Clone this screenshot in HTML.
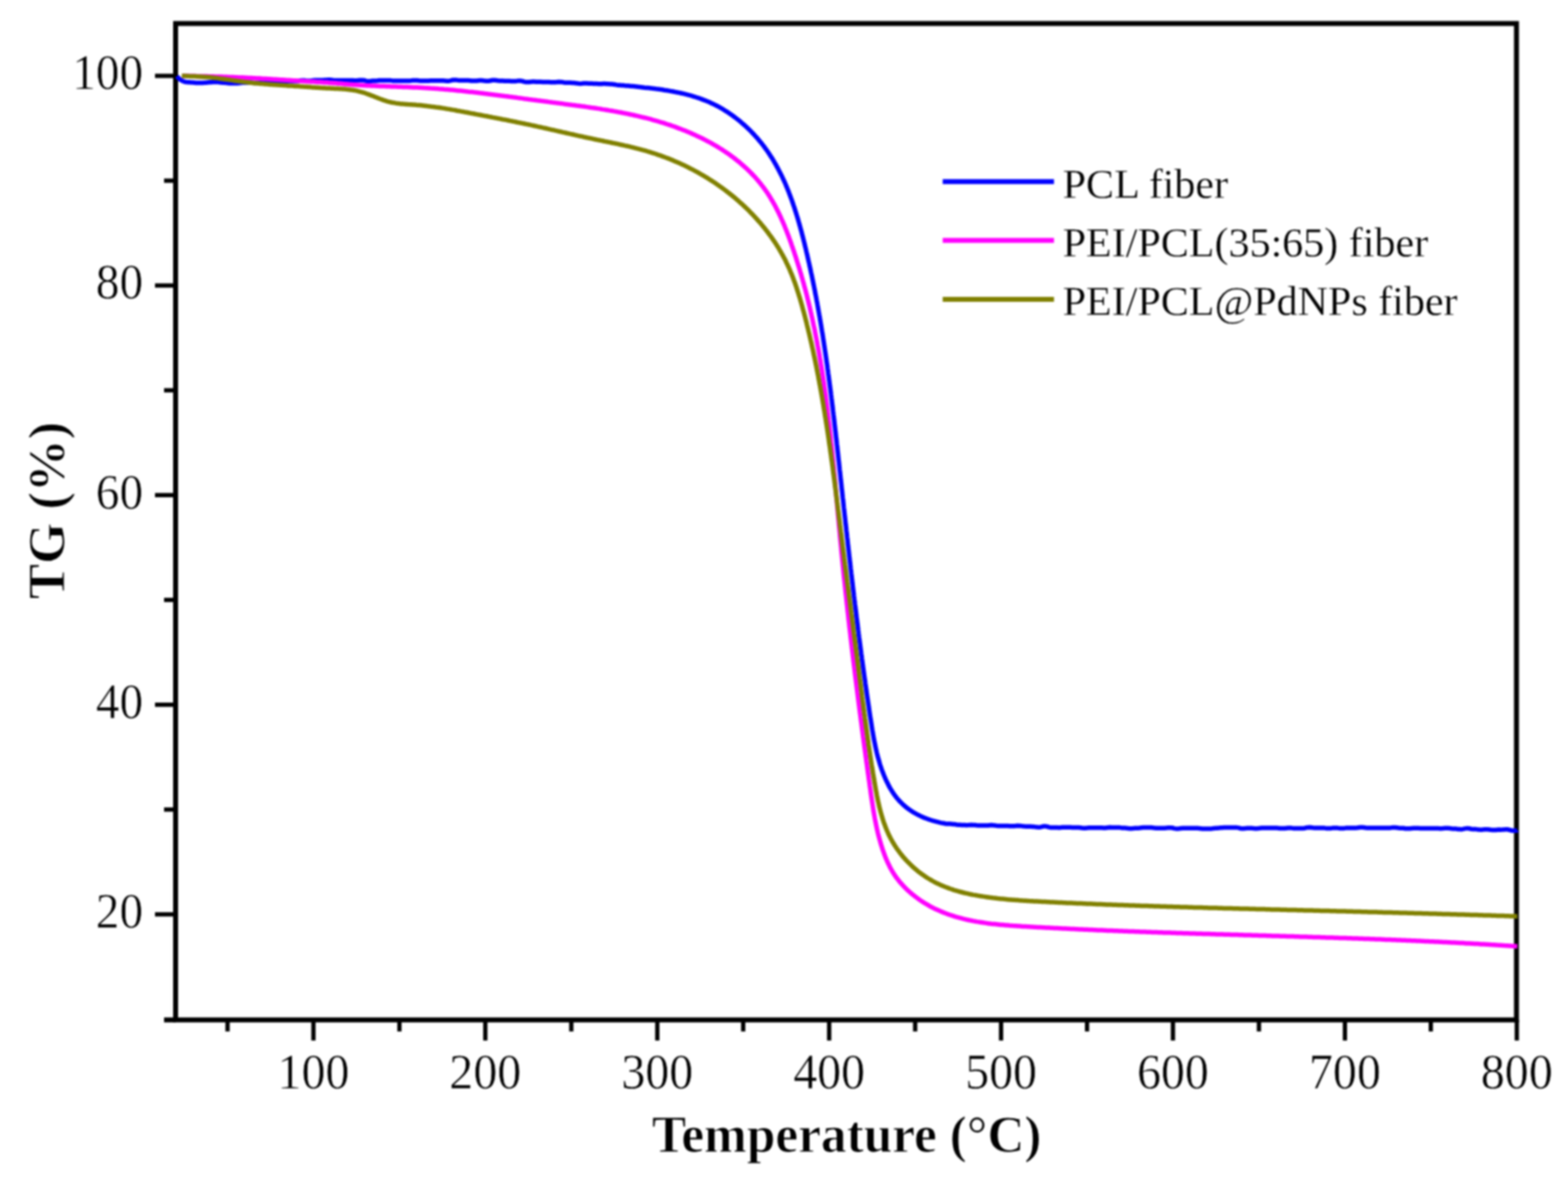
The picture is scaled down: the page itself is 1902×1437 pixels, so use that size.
<!DOCTYPE html>
<html lang="en"><head><meta charset="utf-8"><title>TG curves</title>
<style>
html,body{margin:0;padding:0;background:#fff;}
body{width:1902px;height:1437px;overflow:hidden;}
svg{display:block;filter:blur(1.0px);}
text{font-family:"Liberation Serif","Times New Roman",serif;fill:#000;stroke:#fff;stroke-width:0.6px;paint-order:fill stroke;}
.tk{font-size:61.5px;}
.tt{font-size:64px;font-weight:bold;stroke-width:1px;}
.lg{font-size:51px;stroke-width:0.3px;}
</style></head><body>
<svg width="1902" height="1437" viewBox="0 0 1902 1437">
<rect x="0" y="0" width="1902" height="1437" fill="#fff"/>
<g id="chart">

<g stroke="#000" stroke-width="6" fill="none" stroke-linecap="butt">
<rect x="213.0" y="28.5" width="1626.5" height="1208.3"/>
<line x1="276.0" y1="1236.8" x2="276.0" y2="1250.8" stroke-width="5.2"/>
<line x1="380.2" y1="1236.8" x2="380.2" y2="1261.8" stroke-width="5.2"/>
<line x1="484.5" y1="1236.8" x2="484.5" y2="1250.8" stroke-width="5.2"/>
<line x1="588.7" y1="1236.8" x2="588.7" y2="1261.8" stroke-width="5.2"/>
<line x1="693.0" y1="1236.8" x2="693.0" y2="1250.8" stroke-width="5.2"/>
<line x1="797.3" y1="1236.8" x2="797.3" y2="1261.8" stroke-width="5.2"/>
<line x1="901.5" y1="1236.8" x2="901.5" y2="1250.8" stroke-width="5.2"/>
<line x1="1005.8" y1="1236.8" x2="1005.8" y2="1261.8" stroke-width="5.2"/>
<line x1="1110.1" y1="1236.8" x2="1110.1" y2="1250.8" stroke-width="5.2"/>
<line x1="1214.3" y1="1236.8" x2="1214.3" y2="1261.8" stroke-width="5.2"/>
<line x1="1318.6" y1="1236.8" x2="1318.6" y2="1250.8" stroke-width="5.2"/>
<line x1="1422.8" y1="1236.8" x2="1422.8" y2="1261.8" stroke-width="5.2"/>
<line x1="1527.1" y1="1236.8" x2="1527.1" y2="1250.8" stroke-width="5.2"/>
<line x1="1631.4" y1="1236.8" x2="1631.4" y2="1261.8" stroke-width="5.2"/>
<line x1="1735.6" y1="1236.8" x2="1735.6" y2="1250.8" stroke-width="5.2"/>
<line x1="1839.9" y1="1236.8" x2="1839.9" y2="1261.8" stroke-width="5.2"/>
<line x1="199.0" y1="1236.8" x2="213.0" y2="1236.8" stroke-width="6"/>
<line x1="188.0" y1="1108.8" x2="213.0" y2="1108.8" stroke-width="5.2"/>
<line x1="199.0" y1="981.7" x2="213.0" y2="981.7" stroke-width="5.2"/>
<line x1="188.0" y1="854.6" x2="213.0" y2="854.6" stroke-width="5.2"/>
<line x1="199.0" y1="727.5" x2="213.0" y2="727.5" stroke-width="5.2"/>
<line x1="188.0" y1="600.4" x2="213.0" y2="600.4" stroke-width="5.2"/>
<line x1="199.0" y1="473.3" x2="213.0" y2="473.3" stroke-width="5.2"/>
<line x1="188.0" y1="346.2" x2="213.0" y2="346.2" stroke-width="5.2"/>
<line x1="199.0" y1="219.1" x2="213.0" y2="219.1" stroke-width="5.2"/>
<line x1="188.0" y1="92.0" x2="213.0" y2="92.0" stroke-width="5.2"/>
</g>
<g fill="none" stroke-width="5.5" stroke-linejoin="round" stroke-linecap="butt">
<path d="M214.5,92.5 L215.9,94.1 L217.4,95.5 L219.0,96.7 L220.6,97.8 L222.4,98.6 L224.2,99.2 L226.1,99.6 L228.0,99.7 L229.9,99.8 L231.9,99.9 L233.9,100.1 L235.9,100.3 L237.9,100.5 L239.9,100.5 L241.9,100.5 L244.0,100.4 L246.0,100.4 L248.0,100.3 L250.0,100.2 L252.1,99.9 L254.1,99.7 L256.1,99.7 L258.1,99.6 L260.1,99.6 L262.1,99.6 L264.1,99.6 L266.1,99.7 L268.1,100.1 L270.1,100.2 L272.1,100.2 L274.1,100.4 L276.1,100.7 L278.1,100.9 L280.1,100.9 L282.1,100.9 L284.1,100.9 L286.1,100.9 L288.1,100.9 L290.1,100.8 L292.1,100.5 L294.0,100.3 L296.0,100.3 L298.0,100.2 L300.0,100.2 L302.1,100.2 L304.1,100.1 L306.1,100.3 L308.1,100.5 L310.1,100.6 L312.1,100.5 L314.1,100.3 L316.1,100.0 L318.1,99.7 L320.1,99.7 L322.1,99.7 L324.1,100.0 L326.1,100.0 L328.1,99.9 L330.1,99.7 L332.1,99.3 L334.1,99.0 L336.1,98.9 L338.1,99.0 L340.1,99.2 L342.1,99.2 L344.1,99.1 L346.1,98.8 L348.1,98.4 L350.0,98.2 L352.0,98.1 L354.0,98.2 L356.0,98.4 L358.0,98.5 L360.0,98.4 L362.0,98.2 L364.0,97.8 L366.0,97.6 L368.0,97.5 L370.0,97.6 L372.0,97.9 L374.0,98.0 L376.0,98.0 L378.0,97.8 L380.0,97.5 L382.0,97.3 L384.0,97.3 L386.0,97.3 L388.0,97.3 L390.0,97.3 L392.0,97.3 L394.0,97.1 L396.0,96.9 L398.0,96.7 L400.0,96.7 L402.0,96.9 L404.0,97.2 L406.0,97.4 L408.0,97.4 L410.0,97.4 L412.0,97.4 L414.0,97.5 L416.0,97.5 L418.0,97.5 L420.0,97.5 L422.0,97.6 L424.0,97.6 L426.0,97.6 L428.0,97.6 L430.0,97.7 L432.0,97.7 L434.0,97.6 L436.0,97.3 L438.0,97.2 L440.0,97.2 L442.0,97.5 L444.0,98.1 L446.0,98.4 L448.0,98.5 L450.0,98.3 L452.0,98.0 L454.0,97.9 L456.0,97.9 L458.0,97.8 L460.0,97.5 L462.0,97.4 L464.0,97.4 L466.0,97.4 L468.0,97.4 L470.0,97.4 L472.0,97.4 L474.0,97.6 L476.0,97.9 L478.0,98.0 L480.0,98.0 L482.0,98.1 L484.0,98.1 L486.0,98.1 L488.0,98.1 L490.0,98.0 L492.0,98.0 L494.0,98.0 L496.0,98.0 L498.0,97.9 L500.0,97.6 L502.0,97.4 L504.0,97.4 L506.0,97.5 L508.0,97.8 L510.0,97.9 L512.0,97.9 L514.0,97.9 L516.0,97.9 L518.0,97.9 L520.0,97.9 L522.0,97.8 L524.0,97.8 L526.0,97.8 L528.0,97.8 L530.0,97.7 L532.0,97.7 L534.0,97.7 L536.0,97.7 L538.0,97.8 L540.0,98.1 L542.0,98.2 L544.0,98.2 L546.0,97.9 L548.0,97.3 L550.0,97.0 L552.0,96.9 L554.0,97.1 L556.0,97.4 L558.0,97.5 L560.0,97.5 L562.0,97.5 L564.0,97.5 L566.0,97.5 L568.0,97.5 L570.0,97.7 L572.0,98.0 L574.0,98.1 L576.0,98.1 L578.0,98.0 L580.0,97.7 L582.0,97.6 L584.0,97.6 L586.0,97.8 L588.0,98.1 L590.0,98.3 L592.0,98.3 L594.0,98.1 L596.0,97.5 L598.0,97.2 L600.0,97.3 L602.0,97.5 L604.0,97.8 L606.0,98.0 L608.0,98.1 L610.0,98.1 L612.0,98.2 L614.0,98.2 L616.0,98.3 L618.0,98.3 L620.0,98.4 L622.0,98.4 L624.0,98.5 L626.0,98.4 L628.0,98.1 L630.0,98.0 L632.0,98.1 L634.0,98.5 L636.0,99.1 L638.0,99.5 L640.0,99.5 L642.0,99.4 L644.0,99.2 L646.0,99.1 L648.0,99.1 L650.0,99.2 L652.0,99.2 L654.0,99.3 L656.0,99.3 L658.0,99.4 L660.0,99.5 L662.0,99.5 L664.0,99.6 L666.0,99.6 L668.0,99.7 L670.0,99.7 L672.0,99.8 L674.0,99.7 L676.0,99.4 L678.0,99.3 L680.0,99.4 L682.0,99.6 L684.0,100.0 L686.0,100.2 L688.0,100.2 L690.0,100.3 L692.0,100.3 L694.0,100.4 L696.0,100.5 L697.9,100.7 L699.9,101.1 L701.9,101.3 L703.9,101.4 L705.9,101.3 L707.9,101.1 L709.9,101.0 L711.9,101.1 L713.9,101.2 L715.9,101.2 L717.9,101.3 L719.9,101.4 L721.9,101.5 L723.9,101.6 L725.9,101.7 L727.9,101.8 L729.8,101.8 L731.8,101.6 L733.8,101.5 L735.8,101.7 L737.8,101.8 L739.8,101.9 L741.8,102.0 L743.8,102.2 L745.8,102.5 L747.8,102.9 L749.8,103.2 L751.8,103.3 L753.8,103.5 L755.8,103.6 L757.8,103.8 L759.7,103.9 L761.7,104.1 L763.7,104.3 L765.7,104.5 L767.7,104.6 L769.7,104.8 L771.7,105.0 L773.7,105.2 L775.7,105.4 L777.7,105.7 L779.7,106.0 L781.7,106.3 L783.7,106.5 L785.7,106.6 L787.7,106.8 L789.6,107.0 L791.6,107.2 L793.6,107.4 L795.6,107.7 L797.6,107.9 L799.6,108.2 L801.6,108.5 L803.6,108.8 L805.6,109.2 L807.6,109.5 L809.6,109.8 L811.5,110.1 L813.5,110.5 L815.5,110.8 L817.5,111.2 L819.4,111.6 L821.4,112.0 L823.4,112.4 L825.3,112.8 L827.3,113.2 L829.2,113.7 L831.2,114.2 L833.1,114.7 L835.0,115.2 L837.0,115.7 L838.9,116.2 L840.8,116.8 L842.7,117.4 L844.6,118.0 L846.5,118.6 L848.4,119.2 L850.2,119.9 L852.1,120.6 L854.0,121.3 L855.8,122.0 L857.7,122.8 L859.5,123.5 L861.3,124.3 L863.1,125.2 L865.0,126.0 L866.7,126.9 L868.5,127.8 L870.3,128.7 L872.1,129.7 L873.8,130.7 L875.6,131.7 L877.3,132.7 L879.0,133.8 L880.7,134.8 L882.4,135.9 L884.1,137.0 L885.8,138.2 L887.4,139.3 L889.1,140.5 L890.7,141.7 L892.3,142.9 L893.9,144.1 L895.5,145.4 L897.1,146.7 L898.6,147.9 L900.1,149.3 L901.7,150.6 L903.2,151.9 L904.7,153.3 L906.2,154.7 L907.6,156.0 L909.1,157.4 L910.5,158.9 L911.9,160.3 L913.3,161.8 L914.7,163.2 L916.0,164.7 L917.3,166.2 L918.7,167.7 L920.0,169.2 L921.2,170.7 L922.5,172.3 L923.8,173.8 L925.0,175.4 L926.2,176.9 L927.4,178.5 L928.5,180.1 L929.7,181.7 L930.8,183.3 L932.0,185.0 L933.1,186.6 L934.1,188.2 L935.2,189.9 L936.3,191.6 L937.3,193.2 L938.3,194.9 L939.3,196.6 L940.3,198.3 L941.3,200.0 L942.2,201.8 L943.2,203.5 L944.1,205.2 L945.0,207.0 L945.9,208.7 L946.8,210.5 L947.7,212.3 L948.6,214.0 L949.4,215.8 L950.2,217.6 L951.1,219.4 L951.9,221.2 L952.7,223.0 L953.5,224.9 L954.2,226.7 L955.0,228.5 L955.7,230.4 L956.5,232.2 L957.2,234.1 L957.9,235.9 L958.6,237.8 L959.3,239.7 L960.0,241.5 L960.7,243.4 L961.3,245.3 L962.0,247.2 L962.6,249.1 L963.3,251.0 L963.9,252.9 L964.5,254.8 L965.1,256.7 L965.7,258.6 L966.3,260.5 L966.9,262.5 L967.5,264.4 L968.1,266.3 L968.6,268.2 L969.2,270.2 L969.7,272.1 L970.3,274.1 L970.8,276.0 L971.3,277.9 L971.9,279.9 L972.4,281.8 L972.9,283.8 L973.4,285.7 L973.9,287.7 L974.4,289.7 L974.9,291.6 L975.4,293.6 L975.9,295.5 L976.3,297.5 L976.8,299.4 L977.3,301.4 L977.8,303.4 L978.2,305.3 L978.7,307.3 L979.1,309.2 L979.6,311.2 L980.0,313.2 L980.5,315.1 L980.9,317.1 L981.4,319.0 L981.8,321.0 L982.2,323.0 L982.7,324.9 L983.1,326.9 L983.5,328.9 L983.9,330.8 L984.4,332.8 L984.8,334.8 L985.2,336.7 L985.6,338.7 L986.0,340.6 L986.4,342.6 L986.8,344.6 L987.2,346.5 L987.6,348.5 L988.0,350.5 L988.4,352.4 L988.7,354.4 L989.1,356.4 L989.5,358.3 L989.9,360.3 L990.3,362.3 L990.6,364.2 L991.0,366.2 L991.4,368.2 L991.7,370.2 L992.1,372.1 L992.4,374.1 L992.8,376.1 L993.1,378.0 L993.5,380.0 L993.8,382.0 L994.2,383.9 L994.5,385.9 L994.8,387.9 L995.2,389.9 L995.5,391.8 L995.8,393.8 L996.2,395.8 L996.5,397.8 L996.8,399.7 L997.1,401.7 L997.5,403.7 L997.8,405.6 L998.1,407.6 L998.4,409.6 L998.7,411.6 L999.0,413.5 L999.3,415.5 L999.6,417.5 L999.9,419.5 L1000.2,421.4 L1000.5,423.4 L1000.8,425.4 L1001.1,427.4 L1001.4,429.3 L1001.7,431.3 L1002.0,433.3 L1002.3,435.3 L1002.5,437.3 L1002.8,439.2 L1003.1,441.2 L1003.4,443.2 L1003.7,445.2 L1003.9,447.1 L1004.2,449.1 L1004.5,451.1 L1004.7,453.1 L1005.0,455.1 L1005.3,457.0 L1005.5,459.0 L1005.8,461.0 L1006.1,463.0 L1006.3,465.0 L1006.6,466.9 L1006.8,468.9 L1007.1,470.9 L1007.4,472.9 L1007.6,474.9 L1007.9,476.8 L1008.1,478.8 L1008.4,480.8 L1008.6,482.8 L1008.9,484.8 L1009.1,486.7 L1009.3,488.7 L1009.6,490.7 L1009.8,492.7 L1010.1,494.7 L1010.3,496.6 L1010.5,498.6 L1010.8,500.6 L1011.0,502.6 L1011.3,504.6 L1011.5,506.6 L1011.7,508.5 L1012.0,510.5 L1012.2,512.5 L1012.4,514.5 L1012.6,516.5 L1012.9,518.5 L1013.1,520.4 L1013.3,522.4 L1013.6,524.4 L1013.8,526.4 L1014.0,528.4 L1014.2,530.4 L1014.5,532.3 L1014.7,534.3 L1014.9,536.3 L1015.1,538.3 L1015.4,540.3 L1015.6,542.3 L1015.8,544.3 L1016.0,546.2 L1016.2,548.2 L1016.5,550.2 L1016.7,552.2 L1016.9,554.2 L1017.1,556.2 L1017.3,558.2 L1017.6,560.1 L1017.8,562.1 L1018.0,564.1 L1018.2,566.1 L1018.4,568.1 L1018.6,570.1 L1018.9,572.1 L1019.1,574.0 L1019.3,576.0 L1019.5,578.0 L1019.7,580.0 L1019.9,582.0 L1020.2,584.0 L1020.4,586.0 L1020.6,587.9 L1020.8,589.9 L1021.0,591.9 L1021.2,593.9 L1021.5,595.9 L1021.7,597.9 L1021.9,599.9 L1022.1,601.9 L1022.3,603.8 L1022.6,605.8 L1022.8,607.8 L1023.0,609.8 L1023.2,611.8 L1023.4,613.8 L1023.6,615.8 L1023.9,617.8 L1024.1,619.7 L1024.3,621.7 L1024.5,623.7 L1024.7,625.7 L1025.0,627.7 L1025.2,629.7 L1025.4,631.7 L1025.6,633.7 L1025.8,635.7 L1026.1,637.6 L1026.3,639.6 L1026.5,641.6 L1026.7,643.6 L1027.0,645.6 L1027.2,647.6 L1027.4,649.6 L1027.6,651.6 L1027.9,653.5 L1028.1,655.5 L1028.3,657.5 L1028.5,659.5 L1028.7,661.5 L1029.0,663.5 L1029.2,665.5 L1029.4,667.5 L1029.7,669.4 L1029.9,671.4 L1030.1,673.4 L1030.3,675.4 L1030.6,677.4 L1030.8,679.4 L1031.0,681.4 L1031.3,683.4 L1031.5,685.4 L1031.7,687.3 L1031.9,689.3 L1032.2,691.3 L1032.4,693.3 L1032.6,695.3 L1032.9,697.3 L1033.1,699.3 L1033.3,701.3 L1033.6,703.2 L1033.8,705.2 L1034.0,707.2 L1034.3,709.2 L1034.5,711.2 L1034.7,713.2 L1035.0,715.2 L1035.2,717.2 L1035.5,719.1 L1035.7,721.1 L1035.9,723.1 L1036.2,725.1 L1036.4,727.1 L1036.7,729.1 L1036.9,731.1 L1037.1,733.1 L1037.4,735.0 L1037.6,737.0 L1037.9,739.0 L1038.1,741.0 L1038.4,743.0 L1038.6,745.0 L1038.9,747.0 L1039.1,748.9 L1039.4,750.9 L1039.6,752.9 L1039.9,754.9 L1040.1,756.9 L1040.4,758.9 L1040.6,760.9 L1040.9,762.9 L1041.1,764.8 L1041.4,766.8 L1041.6,768.8 L1041.9,770.8 L1042.1,772.8 L1042.4,774.8 L1042.6,776.7 L1042.9,778.7 L1043.2,780.7 L1043.4,782.7 L1043.7,784.7 L1043.9,786.7 L1044.2,788.7 L1044.5,790.6 L1044.7,792.6 L1045.0,794.6 L1045.3,796.6 L1045.5,798.6 L1045.8,800.6 L1046.1,802.5 L1046.3,804.5 L1046.6,806.5 L1046.9,808.5 L1047.1,810.5 L1047.4,812.5 L1047.7,814.4 L1048.0,816.4 L1048.2,818.4 L1048.5,820.4 L1048.8,822.4 L1049.1,824.4 L1049.4,826.3 L1049.6,828.3 L1049.9,830.3 L1050.2,832.3 L1050.5,834.3 L1050.8,836.3 L1051.0,838.2 L1051.3,840.2 L1051.6,842.2 L1051.9,844.2 L1052.2,846.2 L1052.5,848.1 L1052.8,850.1 L1053.1,852.1 L1053.4,854.1 L1053.7,856.1 L1054.0,858.0 L1054.2,860.0 L1054.5,862.0 L1054.8,864.0 L1055.1,866.0 L1055.4,867.9 L1055.7,869.9 L1056.0,871.9 L1056.4,873.9 L1056.7,875.9 L1057.0,877.8 L1057.3,879.8 L1057.6,881.8 L1057.9,883.8 L1058.2,885.7 L1058.6,887.7 L1058.9,889.7 L1059.2,891.6 L1059.6,893.6 L1059.9,895.6 L1060.3,897.5 L1060.7,899.5 L1061.1,901.4 L1061.5,903.4 L1061.9,905.4 L1062.3,907.3 L1062.7,909.2 L1063.2,911.2 L1063.6,913.1 L1064.1,915.0 L1064.6,917.0 L1065.1,918.9 L1065.7,920.8 L1066.2,922.7 L1066.8,924.6 L1067.3,926.5 L1067.9,928.4 L1068.6,930.3 L1069.2,932.2 L1069.9,934.1 L1070.6,935.9 L1071.3,937.8 L1072.0,939.6 L1072.8,941.5 L1073.6,943.3 L1074.4,945.2 L1075.2,947.0 L1076.1,948.8 L1077.0,950.6 L1077.9,952.4 L1078.8,954.1 L1079.8,955.9 L1080.9,957.6 L1081.9,959.3 L1083.0,961.0 L1084.1,962.7 L1085.3,964.3 L1086.5,965.9 L1087.7,967.5 L1089.0,969.0 L1090.3,970.5 L1091.7,972.0 L1093.1,973.4 L1094.5,974.8 L1096.0,976.2 L1097.5,977.5 L1099.1,978.8 L1100.6,980.0 L1102.3,981.2 L1103.9,982.4 L1105.6,983.5 L1107.3,984.6 L1109.0,985.6 L1110.8,986.6 L1112.6,987.6 L1114.4,988.5 L1116.2,989.4 L1118.0,990.2 L1119.8,991.1 L1121.7,991.8 L1123.6,992.5 L1125.4,993.2 L1127.3,993.9 L1129.2,994.5 L1131.1,995.1 L1133.0,995.6 L1134.9,996.1 L1136.8,996.6 L1138.8,997.1 L1140.7,997.6 L1142.6,998.0 L1144.6,998.3 L1146.5,998.7 L1148.5,999.0 L1150.5,999.1 L1152.4,999.1 L1154.4,999.2 L1156.4,999.4 L1158.4,999.6 L1160.4,1000.0 L1162.4,1000.2 L1164.4,1000.3 L1166.4,1000.4 L1168.4,1000.5 L1170.4,1000.6 L1172.4,1000.7 L1174.4,1000.6 L1176.4,1000.4 L1178.4,1000.3 L1180.4,1000.4 L1182.4,1000.5 L1184.4,1000.8 L1186.4,1001.0 L1188.5,1001.0 L1190.5,1001.1 L1192.5,1001.1 L1194.5,1001.1 L1196.5,1001.1 L1198.5,1001.0 L1200.5,1000.7 L1202.5,1000.6 L1204.5,1000.7 L1206.6,1000.9 L1208.6,1001.2 L1210.6,1001.4 L1212.6,1001.4 L1214.6,1001.5 L1216.6,1001.5 L1218.6,1001.5 L1220.6,1001.6 L1222.6,1001.6 L1224.6,1001.7 L1226.6,1001.7 L1228.6,1001.8 L1230.6,1001.7 L1232.6,1001.4 L1234.6,1001.3 L1236.6,1001.4 L1238.6,1001.6 L1240.6,1001.9 L1242.6,1002.1 L1244.6,1002.2 L1246.6,1002.2 L1248.6,1002.3 L1250.6,1002.3 L1252.6,1002.4 L1254.6,1002.6 L1256.6,1002.9 L1258.6,1003.1 L1260.6,1003.2 L1262.6,1002.9 L1264.6,1002.3 L1266.6,1002.1 L1268.6,1002.1 L1270.6,1002.5 L1272.6,1003.1 L1274.6,1003.5 L1276.6,1003.5 L1278.5,1003.5 L1280.5,1003.6 L1282.5,1003.6 L1284.5,1003.7 L1286.5,1003.6 L1288.5,1003.3 L1290.5,1003.2 L1292.5,1003.2 L1294.5,1003.3 L1296.5,1003.3 L1298.5,1003.3 L1300.5,1003.4 L1302.5,1003.4 L1304.5,1003.4 L1306.5,1003.4 L1308.5,1003.5 L1310.5,1003.7 L1312.5,1004.0 L1314.5,1004.2 L1316.5,1004.2 L1318.5,1004.1 L1320.5,1003.8 L1322.5,1003.7 L1324.5,1003.7 L1326.5,1003.7 L1328.5,1003.7 L1330.5,1003.8 L1332.5,1003.8 L1334.5,1003.8 L1336.5,1003.8 L1338.5,1003.9 L1340.5,1003.9 L1342.5,1003.7 L1344.5,1003.5 L1346.5,1003.3 L1348.5,1003.4 L1350.5,1003.4 L1352.5,1003.4 L1354.5,1003.4 L1356.5,1003.4 L1358.5,1003.6 L1360.5,1003.9 L1362.5,1004.1 L1364.5,1004.1 L1366.5,1004.2 L1368.5,1004.6 L1370.5,1004.7 L1372.5,1004.7 L1374.5,1004.6 L1376.5,1004.3 L1378.5,1004.2 L1380.5,1004.2 L1382.5,1004.0 L1384.5,1003.7 L1386.5,1003.6 L1388.5,1003.6 L1390.5,1003.6 L1392.5,1003.6 L1394.5,1003.6 L1396.5,1003.6 L1398.5,1003.8 L1400.5,1004.1 L1402.5,1004.3 L1404.5,1004.3 L1406.5,1004.3 L1408.5,1004.3 L1410.5,1004.3 L1412.5,1004.3 L1414.5,1004.1 L1416.5,1003.8 L1418.5,1003.7 L1420.5,1003.7 L1422.5,1004.0 L1424.5,1004.6 L1426.5,1004.9 L1428.5,1004.9 L1430.5,1004.8 L1432.5,1004.5 L1434.5,1004.3 L1436.5,1004.3 L1438.5,1004.3 L1440.5,1004.3 L1442.5,1004.3 L1444.5,1004.3 L1446.5,1004.3 L1448.5,1004.3 L1450.5,1004.3 L1452.5,1004.3 L1454.5,1004.5 L1456.5,1004.7 L1458.5,1004.9 L1460.5,1004.9 L1462.5,1004.9 L1464.5,1004.9 L1466.5,1004.9 L1468.5,1004.9 L1470.5,1004.7 L1472.5,1004.4 L1474.5,1004.3 L1476.5,1004.3 L1478.5,1004.1 L1480.5,1003.8 L1482.5,1003.7 L1484.5,1003.6 L1486.5,1003.6 L1488.5,1003.6 L1490.5,1003.6 L1492.5,1003.6 L1494.5,1003.6 L1496.5,1003.6 L1498.5,1003.6 L1500.5,1003.6 L1502.5,1003.9 L1504.5,1004.5 L1506.5,1004.8 L1508.5,1004.8 L1510.5,1004.6 L1512.5,1004.3 L1514.5,1004.2 L1516.5,1004.2 L1518.5,1004.3 L1520.5,1004.6 L1522.5,1004.7 L1524.5,1004.7 L1526.5,1004.6 L1528.5,1004.3 L1530.5,1004.1 L1532.5,1004.1 L1534.5,1004.1 L1536.5,1004.1 L1538.5,1004.1 L1540.5,1004.1 L1542.5,1004.1 L1544.5,1004.1 L1546.5,1004.1 L1548.5,1004.1 L1550.5,1004.2 L1552.5,1004.5 L1554.5,1004.6 L1556.5,1004.6 L1558.5,1004.5 L1560.5,1004.2 L1562.5,1004.0 L1564.5,1004.0 L1566.5,1004.1 L1568.5,1004.4 L1570.5,1004.6 L1572.5,1004.6 L1574.5,1004.6 L1576.5,1004.6 L1578.5,1004.6 L1580.5,1004.6 L1582.5,1004.3 L1584.5,1003.7 L1586.5,1003.4 L1588.5,1003.3 L1590.5,1003.5 L1592.5,1003.8 L1594.5,1003.9 L1596.5,1003.9 L1598.5,1003.9 L1600.5,1003.9 L1602.5,1003.9 L1604.5,1003.9 L1606.5,1004.1 L1608.5,1004.4 L1610.5,1004.5 L1612.5,1004.5 L1614.5,1004.4 L1616.5,1004.1 L1618.5,1003.9 L1620.5,1003.9 L1622.5,1004.1 L1624.5,1004.4 L1626.5,1004.5 L1628.5,1004.5 L1630.5,1004.4 L1632.5,1004.1 L1634.5,1003.9 L1636.5,1003.9 L1638.5,1003.9 L1640.5,1003.9 L1642.5,1003.9 L1644.5,1003.9 L1646.5,1003.8 L1648.5,1003.5 L1650.5,1003.3 L1652.5,1003.3 L1654.5,1003.5 L1656.5,1003.8 L1658.5,1004.0 L1660.5,1004.0 L1662.5,1004.0 L1664.5,1004.0 L1666.5,1004.0 L1668.5,1004.0 L1670.5,1004.0 L1672.5,1004.0 L1674.5,1004.0 L1676.5,1004.0 L1678.5,1004.0 L1680.5,1004.0 L1682.5,1004.1 L1684.5,1004.1 L1686.5,1003.9 L1688.5,1003.6 L1690.5,1003.5 L1692.5,1003.5 L1694.5,1003.7 L1696.5,1004.0 L1698.5,1004.2 L1700.5,1004.2 L1702.5,1004.3 L1704.5,1004.7 L1706.5,1004.8 L1708.5,1004.8 L1710.5,1004.7 L1712.5,1004.4 L1714.5,1004.3 L1716.5,1004.3 L1718.5,1004.3 L1720.5,1004.3 L1722.5,1004.4 L1724.5,1004.4 L1726.5,1004.4 L1728.5,1004.4 L1730.5,1004.5 L1732.5,1004.5 L1734.5,1004.5 L1736.5,1004.5 L1738.5,1004.6 L1740.5,1004.6 L1742.5,1004.6 L1744.5,1004.6 L1746.5,1004.7 L1748.5,1004.7 L1750.5,1004.6 L1752.5,1004.3 L1754.5,1004.2 L1756.5,1004.2 L1758.5,1004.4 L1760.5,1004.7 L1762.5,1004.9 L1764.5,1004.9 L1766.5,1005.1 L1768.5,1005.5 L1770.5,1005.6 L1772.5,1005.7 L1774.5,1005.4 L1776.5,1004.9 L1778.5,1004.6 L1780.5,1004.6 L1782.5,1004.8 L1784.5,1005.2 L1786.5,1005.4 L1788.5,1005.4 L1790.5,1005.6 L1792.5,1005.9 L1794.5,1006.1 L1796.5,1006.2 L1798.5,1006.1 L1800.5,1005.8 L1802.5,1005.7 L1804.5,1005.8 L1806.4,1006.0 L1808.4,1006.3 L1810.4,1006.5 L1812.4,1006.6 L1814.4,1006.5 L1816.4,1006.2 L1818.4,1006.1 L1820.4,1006.2 L1822.4,1006.1 L1824.4,1005.9 L1826.4,1005.8 L1828.4,1005.8 L1830.4,1006.2 L1832.4,1006.8 L1834.4,1007.2 L1836.4,1007.3 L1838.4,1007.2 L1840.4,1006.9 L1840.5,1006.8" stroke="#0000ff"/>
<path d="M221.0,92.0 L223.0,92.0 L225.0,92.1 L227.0,92.1 L229.0,92.2 L231.0,92.2 L233.0,92.2 L235.0,92.3 L237.0,92.3 L239.0,92.4 L241.0,92.4 L243.0,92.4 L245.0,92.5 L247.0,92.5 L249.0,92.6 L251.0,92.6 L253.0,92.7 L255.0,92.7 L257.0,92.8 L259.0,92.8 L261.0,92.9 L263.0,92.9 L265.0,93.0 L267.0,93.1 L269.0,93.1 L271.0,93.2 L273.0,93.3 L275.0,93.3 L277.0,93.4 L279.0,93.5 L281.0,93.5 L283.0,93.6 L285.0,93.7 L287.0,93.8 L289.0,93.9 L291.0,93.9 L293.0,94.0 L295.0,94.1 L297.0,94.2 L299.0,94.3 L301.0,94.4 L303.0,94.5 L305.0,94.6 L307.0,94.7 L308.9,94.8 L310.9,94.9 L312.9,95.0 L314.9,95.1 L316.9,95.2 L318.9,95.4 L320.9,95.5 L322.9,95.6 L324.9,95.7 L326.9,95.8 L328.9,95.9 L330.9,96.1 L332.9,96.2 L334.9,96.3 L336.9,96.4 L338.9,96.6 L340.9,96.7 L342.9,96.8 L344.9,96.9 L346.9,97.1 L348.9,97.2 L350.9,97.3 L352.9,97.4 L354.9,97.6 L356.9,97.7 L358.9,97.8 L360.9,97.9 L362.9,98.1 L364.9,98.2 L366.8,98.3 L368.8,98.4 L370.8,98.5 L372.8,98.7 L374.8,98.8 L376.8,98.9 L378.8,99.0 L380.8,99.1 L382.8,99.2 L384.8,99.4 L386.8,99.5 L388.8,99.6 L390.8,99.7 L392.8,99.9 L394.8,100.0 L396.8,100.1 L398.8,100.3 L400.8,100.4 L402.8,100.5 L404.8,100.7 L406.8,100.8 L408.8,101.0 L410.8,101.2 L412.7,101.3 L414.7,101.5 L416.7,101.7 L418.7,101.9 L420.7,102.0 L422.7,102.2 L424.7,102.4 L426.7,102.5 L428.7,102.7 L430.7,102.8 L432.7,103.0 L434.7,103.1 L436.7,103.2 L438.7,103.3 L440.6,103.4 L442.6,103.6 L444.6,103.7 L446.6,103.8 L448.6,103.8 L450.6,103.9 L452.6,104.0 L454.6,104.1 L456.6,104.2 L458.6,104.3 L460.6,104.4 L462.6,104.4 L464.6,104.5 L466.6,104.6 L468.6,104.7 L470.6,104.7 L472.6,104.8 L474.6,104.9 L476.6,104.9 L478.6,105.0 L480.6,105.1 L482.6,105.2 L484.6,105.2 L486.6,105.3 L488.6,105.4 L490.6,105.5 L492.6,105.5 L494.6,105.6 L496.6,105.7 L498.6,105.8 L500.6,105.9 L502.6,105.9 L504.6,106.0 L506.6,106.1 L508.6,106.2 L510.6,106.3 L512.6,106.4 L514.6,106.6 L516.6,106.7 L518.6,106.8 L520.6,106.9 L522.6,107.1 L524.6,107.2 L526.6,107.3 L528.6,107.5 L530.5,107.6 L532.5,107.8 L534.5,107.9 L536.5,108.1 L538.5,108.3 L540.5,108.4 L542.5,108.6 L544.5,108.8 L546.5,109.0 L548.5,109.1 L550.4,109.3 L552.4,109.5 L554.4,109.7 L556.4,109.9 L558.4,110.1 L560.4,110.3 L562.4,110.5 L564.4,110.7 L566.3,110.9 L568.3,111.2 L570.3,111.4 L572.3,111.6 L574.3,111.8 L576.3,112.1 L578.3,112.3 L580.2,112.5 L582.2,112.8 L584.2,113.0 L586.2,113.2 L588.2,113.5 L590.2,113.7 L592.2,114.0 L594.1,114.2 L596.1,114.5 L598.1,114.7 L600.1,115.0 L602.1,115.2 L604.1,115.5 L606.0,115.7 L608.0,116.0 L610.0,116.2 L612.0,116.5 L614.0,116.7 L616.0,117.0 L617.9,117.3 L619.9,117.5 L621.9,117.8 L623.9,118.1 L625.9,118.3 L627.9,118.6 L629.8,118.9 L631.8,119.1 L633.8,119.4 L635.8,119.7 L637.8,119.9 L639.8,120.2 L641.7,120.5 L643.7,120.7 L645.7,121.0 L647.7,121.2 L649.7,121.5 L651.7,121.8 L653.6,122.0 L655.6,122.3 L657.6,122.6 L659.6,122.8 L661.6,123.1 L663.6,123.3 L665.6,123.6 L667.6,123.9 L669.5,124.1 L671.5,124.4 L673.5,124.6 L675.5,124.9 L677.5,125.1 L679.5,125.4 L681.5,125.6 L683.4,125.9 L685.4,126.2 L687.4,126.4 L689.4,126.7 L691.4,126.9 L693.4,127.2 L695.4,127.4 L697.4,127.7 L699.3,128.0 L701.3,128.2 L703.3,128.5 L705.3,128.8 L707.3,129.0 L709.3,129.3 L711.2,129.6 L713.2,129.9 L715.2,130.2 L717.2,130.5 L719.2,130.7 L721.1,131.0 L723.1,131.3 L725.1,131.6 L727.1,131.9 L729.0,132.2 L731.0,132.6 L733.0,132.9 L735.0,133.2 L736.9,133.5 L738.9,133.9 L740.9,134.2 L742.9,134.5 L744.8,134.9 L746.8,135.2 L748.8,135.6 L750.7,136.0 L752.7,136.3 L754.6,136.7 L756.6,137.1 L758.6,137.5 L760.5,137.9 L762.5,138.3 L764.4,138.7 L766.4,139.1 L768.3,139.5 L770.3,140.0 L772.2,140.4 L774.2,140.9 L776.1,141.3 L778.1,141.8 L780.0,142.3 L781.9,142.7 L783.9,143.2 L785.8,143.7 L787.8,144.2 L789.7,144.7 L791.6,145.3 L793.5,145.8 L795.5,146.4 L797.4,146.9 L799.3,147.5 L801.2,148.1 L803.1,148.6 L805.1,149.2 L807.0,149.8 L808.9,150.5 L810.8,151.1 L812.7,151.7 L814.6,152.4 L816.5,153.0 L818.4,153.7 L820.3,154.4 L822.2,155.1 L824.1,155.8 L825.9,156.5 L827.8,157.3 L829.7,158.0 L831.6,158.7 L833.4,159.5 L835.3,160.3 L837.1,161.1 L839.0,161.9 L840.8,162.7 L842.7,163.5 L844.5,164.4 L846.3,165.2 L848.1,166.1 L849.9,166.9 L851.7,167.8 L853.5,168.7 L855.3,169.6 L857.1,170.6 L858.8,171.5 L860.6,172.4 L862.4,173.4 L864.1,174.4 L865.8,175.4 L867.6,176.4 L869.3,177.4 L871.0,178.4 L872.7,179.5 L874.4,180.5 L876.1,181.6 L877.7,182.7 L879.4,183.8 L881.0,184.9 L882.7,186.0 L884.3,187.1 L885.9,188.3 L887.5,189.5 L889.1,190.6 L890.6,191.8 L892.2,193.0 L893.8,194.3 L895.3,195.5 L896.8,196.7 L898.3,198.0 L899.8,199.3 L901.3,200.6 L902.8,201.9 L904.2,203.2 L905.7,204.5 L907.1,205.9 L908.5,207.3 L909.9,208.6 L911.3,210.0 L912.7,211.5 L914.0,212.9 L915.4,214.3 L916.7,215.8 L918.0,217.3 L919.3,218.7 L920.5,220.3 L921.8,221.8 L923.0,223.3 L924.2,224.9 L925.4,226.4 L926.6,228.0 L927.8,229.6 L928.9,231.2 L930.1,232.9 L931.2,234.5 L932.3,236.2 L933.3,237.9 L934.4,239.5 L935.4,241.3 L936.4,243.0 L937.4,244.7 L938.4,246.5 L939.4,248.2 L940.4,250.0 L941.3,251.8 L942.2,253.6 L943.2,255.4 L944.1,257.2 L944.9,259.0 L945.8,260.8 L946.7,262.7 L947.5,264.5 L948.3,266.4 L949.2,268.3 L950.0,270.1 L950.8,272.0 L951.6,273.9 L952.3,275.8 L953.1,277.7 L953.9,279.6 L954.6,281.5 L955.3,283.4 L956.1,285.3 L956.8,287.2 L957.5,289.1 L958.2,291.1 L958.9,293.0 L959.6,294.9 L960.2,296.8 L960.9,298.8 L961.6,300.7 L962.2,302.6 L962.9,304.5 L963.5,306.4 L964.1,308.4 L964.8,310.3 L965.4,312.2 L966.0,314.1 L966.6,316.1 L967.2,318.0 L967.8,319.9 L968.4,321.8 L969.0,323.7 L969.6,325.6 L970.2,327.6 L970.7,329.5 L971.3,331.4 L971.9,333.3 L972.4,335.2 L973.0,337.2 L973.5,339.1 L974.0,341.0 L974.6,342.9 L975.1,344.8 L975.6,346.8 L976.1,348.7 L976.7,350.6 L977.2,352.5 L977.7,354.5 L978.2,356.4 L978.7,358.3 L979.1,360.2 L979.6,362.2 L980.1,364.1 L980.6,366.0 L981.0,368.0 L981.5,369.9 L982.0,371.8 L982.4,373.8 L982.9,375.7 L983.3,377.6 L983.8,379.6 L984.2,381.5 L984.6,383.4 L985.1,385.4 L985.5,387.3 L985.9,389.3 L986.3,391.2 L986.7,393.1 L987.1,395.1 L987.6,397.0 L988.0,399.0 L988.4,400.9 L988.7,402.9 L989.1,404.8 L989.5,406.8 L989.9,408.7 L990.3,410.7 L990.7,412.6 L991.0,414.6 L991.4,416.5 L991.7,418.5 L992.1,420.5 L992.5,422.4 L992.8,424.4 L993.2,426.3 L993.5,428.3 L993.9,430.3 L994.2,432.2 L994.5,434.2 L994.9,436.1 L995.2,438.1 L995.5,440.1 L995.8,442.0 L996.2,444.0 L996.5,446.0 L996.8,447.9 L997.1,449.9 L997.4,451.9 L997.7,453.8 L998.0,455.8 L998.3,457.8 L998.6,459.8 L998.9,461.7 L999.2,463.7 L999.5,465.7 L999.7,467.7 L1000.0,469.6 L1000.3,471.6 L1000.6,473.6 L1000.9,475.6 L1001.1,477.5 L1001.4,479.5 L1001.7,481.5 L1001.9,483.5 L1002.2,485.5 L1002.4,487.4 L1002.7,489.4 L1003.0,491.4 L1003.2,493.4 L1003.5,495.4 L1003.7,497.4 L1003.9,499.3 L1004.2,501.3 L1004.4,503.3 L1004.7,505.3 L1004.9,507.3 L1005.1,509.3 L1005.4,511.3 L1005.6,513.2 L1005.8,515.2 L1006.1,517.2 L1006.3,519.2 L1006.5,521.2 L1006.7,523.2 L1007.0,525.2 L1007.2,527.2 L1007.4,529.2 L1007.6,531.1 L1007.8,533.1 L1008.0,535.1 L1008.2,537.1 L1008.5,539.1 L1008.7,541.1 L1008.9,543.1 L1009.1,545.1 L1009.3,547.1 L1009.5,549.1 L1009.7,551.1 L1009.9,553.1 L1010.1,555.1 L1010.3,557.1 L1010.5,559.1 L1010.7,561.0 L1010.9,563.0 L1011.1,565.0 L1011.3,567.0 L1011.5,569.0 L1011.6,571.0 L1011.8,573.0 L1012.0,575.0 L1012.2,577.0 L1012.4,579.0 L1012.6,581.0 L1012.8,583.0 L1013.0,585.0 L1013.2,587.0 L1013.3,589.0 L1013.5,591.0 L1013.7,593.0 L1013.9,595.0 L1014.1,597.0 L1014.3,599.0 L1014.4,601.0 L1014.6,603.0 L1014.8,605.0 L1015.0,607.0 L1015.2,609.0 L1015.4,611.0 L1015.5,613.0 L1015.7,615.0 L1015.9,617.0 L1016.1,619.0 L1016.3,620.9 L1016.4,622.9 L1016.6,624.9 L1016.8,626.9 L1017.0,628.9 L1017.2,630.9 L1017.4,632.9 L1017.5,634.9 L1017.7,636.9 L1017.9,638.9 L1018.1,640.9 L1018.3,642.9 L1018.5,644.9 L1018.7,646.9 L1018.8,648.9 L1019.0,650.9 L1019.2,652.9 L1019.4,654.9 L1019.6,656.9 L1019.8,658.9 L1020.0,660.9 L1020.2,662.9 L1020.4,664.8 L1020.5,666.8 L1020.7,668.8 L1020.9,670.8 L1021.1,672.8 L1021.3,674.8 L1021.5,676.8 L1021.7,678.8 L1021.9,680.8 L1022.1,682.8 L1022.3,684.8 L1022.5,686.8 L1022.7,688.7 L1022.9,690.7 L1023.1,692.7 L1023.3,694.7 L1023.5,696.7 L1023.7,698.7 L1023.9,700.7 L1024.1,702.7 L1024.4,704.7 L1024.6,706.7 L1024.8,708.6 L1025.0,710.6 L1025.2,712.6 L1025.4,714.6 L1025.6,716.6 L1025.8,718.6 L1026.0,720.6 L1026.3,722.6 L1026.5,724.5 L1026.7,726.5 L1026.9,728.5 L1027.1,730.5 L1027.3,732.5 L1027.6,734.5 L1027.8,736.5 L1028.0,738.4 L1028.2,740.4 L1028.4,742.4 L1028.7,744.4 L1028.9,746.4 L1029.1,748.4 L1029.3,750.4 L1029.5,752.3 L1029.8,754.3 L1030.0,756.3 L1030.2,758.3 L1030.4,760.3 L1030.7,762.3 L1030.9,764.2 L1031.1,766.2 L1031.4,768.2 L1031.6,770.2 L1031.8,772.2 L1032.0,774.2 L1032.3,776.1 L1032.5,778.1 L1032.7,780.1 L1033.0,782.1 L1033.2,784.1 L1033.4,786.1 L1033.7,788.0 L1033.9,790.0 L1034.2,792.0 L1034.4,794.0 L1034.6,796.0 L1034.9,798.0 L1035.1,799.9 L1035.3,801.9 L1035.6,803.9 L1035.8,805.9 L1036.1,807.9 L1036.3,809.8 L1036.6,811.8 L1036.8,813.8 L1037.0,815.8 L1037.3,817.8 L1037.5,819.8 L1037.8,821.7 L1038.0,823.7 L1038.3,825.7 L1038.5,827.7 L1038.8,829.7 L1039.0,831.6 L1039.3,833.6 L1039.5,835.6 L1039.8,837.6 L1040.0,839.6 L1040.3,841.6 L1040.5,843.5 L1040.8,845.5 L1041.0,847.5 L1041.3,849.5 L1041.5,851.5 L1041.8,853.4 L1042.0,855.4 L1042.3,857.4 L1042.5,859.4 L1042.8,861.4 L1043.0,863.3 L1043.3,865.3 L1043.6,867.3 L1043.8,869.3 L1044.1,871.3 L1044.3,873.3 L1044.6,875.2 L1044.9,877.2 L1045.1,879.2 L1045.4,881.2 L1045.6,883.2 L1045.9,885.1 L1046.2,887.1 L1046.4,889.1 L1046.7,891.1 L1046.9,893.1 L1047.2,895.1 L1047.5,897.0 L1047.7,899.0 L1048.0,901.0 L1048.3,903.0 L1048.5,905.0 L1048.8,907.0 L1049.1,908.9 L1049.3,910.9 L1049.6,912.9 L1049.9,914.9 L1050.1,916.9 L1050.4,918.9 L1050.7,920.8 L1050.9,922.8 L1051.2,924.8 L1051.5,926.8 L1051.8,928.8 L1052.0,930.8 L1052.3,932.7 L1052.6,934.7 L1052.8,936.7 L1053.1,938.7 L1053.4,940.7 L1053.7,942.7 L1053.9,944.6 L1054.2,946.6 L1054.5,948.6 L1054.8,950.6 L1055.0,952.6 L1055.3,954.6 L1055.6,956.6 L1055.9,958.5 L1056.1,960.5 L1056.4,962.5 L1056.7,964.5 L1057.0,966.5 L1057.3,968.5 L1057.6,970.5 L1057.9,972.4 L1058.2,974.4 L1058.5,976.4 L1058.8,978.4 L1059.1,980.4 L1059.4,982.3 L1059.7,984.3 L1060.1,986.3 L1060.4,988.3 L1060.8,990.2 L1061.1,992.2 L1061.5,994.2 L1061.9,996.1 L1062.3,998.1 L1062.7,1000.1 L1063.1,1002.0 L1063.5,1004.0 L1063.9,1005.9 L1064.4,1007.9 L1064.8,1009.8 L1065.3,1011.8 L1065.8,1013.7 L1066.3,1015.6 L1066.8,1017.6 L1067.4,1019.5 L1067.9,1021.4 L1068.5,1023.4 L1069.1,1025.3 L1069.7,1027.2 L1070.3,1029.1 L1070.9,1031.0 L1071.6,1032.9 L1072.3,1034.8 L1073.0,1036.7 L1073.7,1038.6 L1074.4,1040.4 L1075.2,1042.3 L1076.0,1044.1 L1076.8,1046.0 L1077.7,1047.8 L1078.6,1049.6 L1079.5,1051.4 L1080.4,1053.2 L1081.4,1054.9 L1082.4,1056.7 L1083.5,1058.4 L1084.5,1060.1 L1085.7,1061.8 L1086.8,1063.5 L1088.0,1065.1 L1089.3,1066.7 L1090.5,1068.3 L1091.8,1069.9 L1093.2,1071.4 L1094.5,1072.9 L1095.9,1074.4 L1097.3,1075.9 L1098.8,1077.3 L1100.2,1078.8 L1101.7,1080.2 L1103.2,1081.5 L1104.8,1082.9 L1106.3,1084.2 L1107.9,1085.4 L1109.5,1086.7 L1111.1,1087.9 L1112.7,1089.1 L1114.3,1090.3 L1115.9,1091.4 L1117.5,1092.5 L1119.2,1093.6 L1120.9,1094.7 L1122.5,1095.7 L1124.2,1096.7 L1125.9,1097.7 L1127.6,1098.7 L1129.3,1099.6 L1131.0,1100.5 L1132.8,1101.4 L1134.5,1102.2 L1136.3,1103.0 L1138.0,1103.8 L1139.8,1104.6 L1141.6,1105.4 L1143.4,1106.1 L1145.2,1106.9 L1147.0,1107.5 L1148.8,1108.2 L1150.6,1108.9 L1152.4,1109.5 L1154.3,1110.1 L1156.1,1110.7 L1158.0,1111.3 L1159.8,1111.9 L1161.7,1112.4 L1163.6,1112.9 L1165.5,1113.4 L1167.3,1113.9 L1169.2,1114.4 L1171.1,1114.8 L1173.0,1115.3 L1175.0,1115.7 L1176.9,1116.1 L1178.8,1116.5 L1180.7,1116.9 L1182.7,1117.2 L1184.6,1117.6 L1186.6,1117.9 L1188.5,1118.2 L1190.5,1118.5 L1192.4,1118.8 L1194.4,1119.1 L1196.4,1119.4 L1198.3,1119.7 L1200.3,1119.9 L1202.3,1120.2 L1204.3,1120.4 L1206.3,1120.6 L1208.3,1120.8 L1210.2,1121.0 L1212.2,1121.2 L1214.2,1121.4 L1216.2,1121.6 L1218.3,1121.8 L1220.3,1122.0 L1222.3,1122.1 L1224.3,1122.3 L1226.3,1122.4 L1228.3,1122.6 L1230.3,1122.7 L1232.3,1122.8 L1234.4,1123.0 L1236.4,1123.1 L1238.4,1123.2 L1240.4,1123.4 L1242.4,1123.5 L1244.5,1123.6 L1246.5,1123.7 L1248.5,1123.8 L1250.5,1123.9 L1252.5,1124.0 L1254.6,1124.2 L1256.6,1124.3 L1258.6,1124.4 L1260.6,1124.5 L1262.6,1124.6 L1264.6,1124.7 L1266.7,1124.8 L1268.7,1124.9 L1270.7,1125.0 L1272.7,1125.1 L1274.7,1125.2 L1276.8,1125.3 L1278.8,1125.4 L1280.8,1125.5 L1282.8,1125.6 L1284.8,1125.7 L1286.8,1125.8 L1288.8,1125.9 L1290.9,1126.0 L1292.9,1126.1 L1294.9,1126.2 L1296.9,1126.3 L1298.9,1126.4 L1300.9,1126.5 L1302.9,1126.6 L1305.0,1126.7 L1307.0,1126.8 L1309.0,1126.9 L1311.0,1127.0 L1313.0,1127.1 L1315.0,1127.2 L1317.0,1127.2 L1319.0,1127.3 L1321.0,1127.4 L1323.1,1127.5 L1325.1,1127.6 L1327.1,1127.7 L1329.1,1127.8 L1331.1,1127.9 L1333.1,1127.9 L1335.1,1128.0 L1337.1,1128.1 L1339.1,1128.2 L1341.1,1128.3 L1343.1,1128.4 L1345.1,1128.4 L1347.2,1128.5 L1349.2,1128.6 L1351.2,1128.7 L1353.2,1128.8 L1355.2,1128.8 L1357.2,1128.9 L1359.2,1129.0 L1361.2,1129.1 L1363.2,1129.2 L1365.2,1129.2 L1367.2,1129.3 L1369.2,1129.4 L1371.2,1129.5 L1373.2,1129.5 L1375.2,1129.6 L1377.2,1129.7 L1379.2,1129.7 L1381.2,1129.8 L1383.2,1129.9 L1385.2,1130.0 L1387.3,1130.0 L1389.3,1130.1 L1391.3,1130.2 L1393.3,1130.3 L1395.3,1130.3 L1397.3,1130.4 L1399.3,1130.5 L1401.3,1130.5 L1403.3,1130.6 L1405.3,1130.7 L1407.3,1130.7 L1409.3,1130.8 L1411.3,1130.9 L1413.3,1130.9 L1415.3,1131.0 L1417.3,1131.1 L1419.3,1131.1 L1421.3,1131.2 L1423.3,1131.3 L1425.3,1131.3 L1427.3,1131.4 L1429.3,1131.5 L1431.3,1131.5 L1433.3,1131.6 L1435.3,1131.7 L1437.3,1131.7 L1439.3,1131.8 L1441.3,1131.8 L1443.3,1131.9 L1445.3,1132.0 L1447.3,1132.0 L1449.3,1132.1 L1451.3,1132.2 L1453.2,1132.2 L1455.2,1132.3 L1457.2,1132.3 L1459.2,1132.4 L1461.2,1132.5 L1463.2,1132.5 L1465.2,1132.6 L1467.2,1132.6 L1469.2,1132.7 L1471.2,1132.8 L1473.2,1132.8 L1475.2,1132.9 L1477.2,1132.9 L1479.2,1133.0 L1481.2,1133.1 L1483.2,1133.1 L1485.2,1133.2 L1487.2,1133.2 L1489.2,1133.3 L1491.2,1133.3 L1493.2,1133.4 L1495.2,1133.5 L1497.2,1133.5 L1499.2,1133.6 L1501.2,1133.6 L1503.1,1133.7 L1505.1,1133.8 L1507.1,1133.8 L1509.1,1133.9 L1511.1,1133.9 L1513.1,1134.0 L1515.1,1134.0 L1517.1,1134.1 L1519.1,1134.2 L1521.1,1134.2 L1523.1,1134.3 L1525.1,1134.3 L1527.1,1134.4 L1529.1,1134.5 L1531.1,1134.5 L1533.1,1134.6 L1535.1,1134.6 L1537.1,1134.7 L1539.0,1134.7 L1541.0,1134.8 L1543.0,1134.9 L1545.0,1134.9 L1547.0,1135.0 L1549.0,1135.0 L1551.0,1135.1 L1553.0,1135.2 L1555.0,1135.2 L1557.0,1135.3 L1559.0,1135.3 L1561.0,1135.4 L1563.0,1135.4 L1565.0,1135.5 L1566.9,1135.6 L1568.9,1135.6 L1570.9,1135.7 L1572.9,1135.7 L1574.9,1135.8 L1576.9,1135.9 L1578.9,1135.9 L1580.9,1136.0 L1582.9,1136.0 L1584.9,1136.1 L1586.9,1136.2 L1588.9,1136.2 L1590.9,1136.3 L1592.9,1136.4 L1594.9,1136.4 L1596.8,1136.5 L1598.8,1136.5 L1600.8,1136.6 L1602.8,1136.7 L1604.8,1136.7 L1606.8,1136.8 L1608.8,1136.9 L1610.8,1136.9 L1612.8,1137.0 L1614.8,1137.1 L1616.8,1137.1 L1618.8,1137.2 L1620.8,1137.2 L1622.8,1137.3 L1624.7,1137.4 L1626.7,1137.4 L1628.7,1137.5 L1630.7,1137.6 L1632.7,1137.6 L1634.7,1137.7 L1636.7,1137.8 L1638.7,1137.8 L1640.7,1137.9 L1642.7,1138.0 L1644.7,1138.1 L1646.7,1138.1 L1648.7,1138.2 L1650.7,1138.3 L1652.7,1138.3 L1654.6,1138.4 L1656.6,1138.5 L1658.6,1138.6 L1660.6,1138.6 L1662.6,1138.7 L1664.6,1138.8 L1666.6,1138.8 L1668.6,1138.9 L1670.6,1139.0 L1672.6,1139.1 L1674.6,1139.1 L1676.6,1139.2 L1678.6,1139.3 L1680.6,1139.4 L1682.6,1139.5 L1684.6,1139.5 L1686.6,1139.6 L1688.6,1139.7 L1690.6,1139.8 L1692.5,1139.8 L1694.5,1139.9 L1696.5,1140.0 L1698.5,1140.1 L1700.5,1140.2 L1702.5,1140.3 L1704.5,1140.3 L1706.5,1140.4 L1708.5,1140.5 L1710.5,1140.6 L1712.5,1140.7 L1714.5,1140.8 L1716.5,1140.8 L1718.5,1140.9 L1720.5,1141.0 L1722.5,1141.1 L1724.5,1141.2 L1726.5,1141.3 L1728.5,1141.4 L1730.5,1141.5 L1732.5,1141.6 L1734.5,1141.7 L1736.5,1141.7 L1738.5,1141.8 L1740.5,1141.9 L1742.5,1142.0 L1744.5,1142.1 L1746.5,1142.2 L1748.5,1142.3 L1750.5,1142.4 L1752.5,1142.5 L1754.5,1142.6 L1756.5,1142.7 L1758.5,1142.8 L1760.5,1142.9 L1762.5,1143.0 L1764.5,1143.1 L1766.5,1143.2 L1768.5,1143.3 L1770.5,1143.4 L1772.5,1143.5 L1774.5,1143.6 L1776.5,1143.7 L1778.5,1143.9 L1780.5,1144.0 L1782.5,1144.1 L1784.5,1144.2 L1786.5,1144.3 L1788.5,1144.4 L1790.5,1144.5 L1792.5,1144.6 L1794.5,1144.7 L1796.5,1144.9 L1798.5,1145.0 L1800.5,1145.1 L1802.5,1145.2 L1804.5,1145.3 L1806.5,1145.4 L1808.5,1145.6 L1810.5,1145.7 L1812.5,1145.8 L1814.5,1145.9 L1816.5,1146.1 L1818.5,1146.2 L1820.5,1146.3 L1822.5,1146.4 L1824.5,1146.6 L1826.5,1146.7 L1828.6,1146.8 L1830.6,1146.9 L1832.6,1147.1 L1834.6,1147.2 L1836.6,1147.3 L1838.6,1147.5 L1840.5,1147.6" stroke="#ff00ff"/>
<path d="M220.5,92.0 L222.5,92.1 L224.5,92.1 L226.5,92.2 L228.5,92.3 L230.5,92.4 L232.5,92.4 L234.5,92.5 L236.5,92.6 L238.5,92.7 L240.5,92.8 L242.5,92.9 L244.5,93.0 L246.5,93.2 L248.5,93.3 L250.5,93.4 L252.5,93.6 L254.5,93.8 L256.5,94.0 L258.4,94.2 L260.4,94.4 L262.4,94.6 L264.4,94.9 L266.4,95.2 L268.4,95.4 L270.3,95.7 L272.3,96.0 L274.3,96.3 L276.3,96.6 L278.3,96.8 L280.2,97.1 L282.2,97.4 L284.2,97.7 L286.2,98.0 L288.1,98.3 L290.1,98.6 L292.1,98.8 L294.1,99.1 L296.1,99.3 L298.1,99.6 L300.0,99.8 L302.0,100.0 L304.0,100.3 L306.0,100.5 L308.0,100.7 L310.0,100.9 L312.0,101.0 L314.0,101.2 L316.0,101.4 L318.0,101.6 L320.0,101.7 L321.9,101.9 L323.9,102.1 L325.9,102.2 L327.9,102.4 L329.9,102.5 L331.9,102.7 L333.9,102.8 L335.9,102.9 L337.9,103.1 L339.9,103.2 L341.9,103.3 L343.9,103.5 L345.9,103.6 L347.9,103.7 L349.9,103.9 L351.9,104.0 L353.9,104.1 L355.9,104.2 L357.9,104.4 L359.9,104.5 L361.9,104.6 L363.9,104.8 L365.8,104.9 L367.8,105.1 L369.8,105.2 L371.8,105.3 L373.8,105.5 L375.8,105.6 L377.8,105.8 L379.8,105.9 L381.8,106.0 L383.8,106.2 L385.8,106.3 L387.8,106.4 L389.8,106.6 L391.8,106.7 L393.8,106.8 L395.8,106.9 L397.8,107.0 L399.8,107.1 L401.8,107.2 L403.8,107.3 L405.8,107.4 L407.8,107.5 L409.8,107.6 L411.8,107.7 L413.8,107.8 L415.8,107.9 L417.8,108.1 L419.8,108.3 L421.8,108.5 L423.8,108.7 L425.7,108.9 L427.7,109.2 L429.7,109.5 L431.6,109.9 L433.6,110.3 L435.5,110.8 L437.4,111.3 L439.3,111.8 L441.3,112.4 L443.2,113.0 L445.0,113.7 L446.9,114.4 L448.8,115.1 L450.7,115.8 L452.6,116.5 L454.4,117.3 L456.3,118.0 L458.2,118.8 L460.1,119.5 L461.9,120.2 L463.8,120.9 L465.7,121.6 L467.6,122.2 L469.5,122.8 L471.4,123.3 L473.3,123.8 L475.3,124.2 L477.2,124.5 L479.2,124.9 L481.2,125.2 L483.1,125.4 L485.1,125.7 L487.1,125.9 L489.1,126.1 L491.1,126.2 L493.1,126.4 L495.1,126.6 L497.1,126.7 L499.1,126.8 L501.1,127.0 L503.1,127.1 L505.1,127.3 L507.1,127.4 L509.1,127.6 L511.1,127.8 L513.1,128.0 L515.0,128.2 L517.0,128.4 L519.0,128.7 L521.0,128.9 L523.0,129.2 L525.0,129.4 L526.9,129.7 L528.9,130.0 L530.9,130.2 L532.9,130.5 L534.8,130.8 L536.8,131.1 L538.8,131.4 L540.8,131.8 L542.7,132.1 L544.7,132.4 L546.7,132.8 L548.6,133.1 L550.6,133.4 L552.6,133.8 L554.5,134.2 L556.5,134.5 L558.4,134.9 L560.4,135.2 L562.4,135.6 L564.3,136.0 L566.3,136.3 L568.3,136.7 L570.2,137.1 L572.2,137.5 L574.2,137.8 L576.1,138.2 L578.1,138.6 L580.1,139.0 L582.0,139.3 L584.0,139.7 L586.0,140.1 L587.9,140.5 L589.9,140.8 L591.9,141.2 L593.8,141.6 L595.8,142.0 L597.8,142.4 L599.7,142.7 L601.7,143.1 L603.7,143.5 L605.6,143.9 L607.6,144.3 L609.6,144.7 L611.5,145.0 L613.5,145.4 L615.5,145.8 L617.4,146.2 L619.4,146.6 L621.4,147.0 L623.3,147.4 L625.3,147.8 L627.2,148.2 L629.2,148.6 L631.2,149.0 L633.1,149.4 L635.1,149.8 L637.1,150.2 L639.0,150.6 L641.0,151.0 L642.9,151.4 L644.9,151.9 L646.8,152.3 L648.8,152.7 L650.8,153.1 L652.7,153.6 L654.7,154.0 L656.6,154.4 L658.6,154.9 L660.5,155.3 L662.5,155.7 L664.4,156.2 L666.4,156.6 L668.3,157.1 L670.2,157.5 L672.2,157.9 L674.1,158.4 L676.1,158.8 L678.0,159.3 L680.0,159.7 L681.9,160.2 L683.9,160.6 L685.8,161.0 L687.8,161.5 L689.7,161.9 L691.7,162.4 L693.6,162.8 L695.6,163.2 L697.5,163.7 L699.5,164.1 L701.4,164.6 L703.4,165.0 L705.3,165.4 L707.3,165.8 L709.2,166.3 L711.2,166.7 L713.1,167.1 L715.1,167.5 L717.0,167.9 L719.0,168.3 L721.0,168.8 L722.9,169.2 L724.9,169.6 L726.8,170.0 L728.8,170.4 L730.8,170.8 L732.7,171.2 L734.7,171.6 L736.7,172.0 L738.6,172.4 L740.6,172.8 L742.5,173.2 L744.5,173.6 L746.5,174.0 L748.4,174.4 L750.4,174.8 L752.3,175.3 L754.3,175.7 L756.3,176.1 L758.2,176.6 L760.2,177.0 L762.1,177.4 L764.1,177.9 L766.0,178.4 L767.9,178.8 L769.9,179.3 L771.8,179.8 L773.8,180.3 L775.7,180.8 L777.6,181.3 L779.6,181.9 L781.5,182.4 L783.4,182.9 L785.3,183.5 L787.2,184.1 L789.1,184.7 L791.1,185.3 L793.0,185.9 L794.9,186.5 L796.7,187.1 L798.6,187.8 L800.5,188.4 L802.4,189.1 L804.3,189.8 L806.2,190.5 L808.0,191.2 L809.9,191.9 L811.8,192.6 L813.6,193.4 L815.5,194.1 L817.3,194.9 L819.1,195.7 L821.0,196.5 L822.8,197.3 L824.6,198.1 L826.4,198.9 L828.3,199.8 L830.1,200.6 L831.9,201.5 L833.7,202.4 L835.4,203.3 L837.2,204.2 L839.0,205.1 L840.8,206.0 L842.5,207.0 L844.3,207.9 L846.1,208.9 L847.8,209.8 L849.5,210.8 L851.3,211.8 L853.0,212.8 L854.7,213.9 L856.4,214.9 L858.1,215.9 L859.8,217.0 L861.5,218.1 L863.2,219.1 L864.9,220.2 L866.5,221.3 L868.2,222.4 L869.8,223.6 L871.5,224.7 L873.1,225.9 L874.7,227.0 L876.4,228.2 L878.0,229.4 L879.6,230.6 L881.2,231.8 L882.7,233.0 L884.3,234.2 L885.9,235.5 L887.4,236.7 L889.0,238.0 L890.5,239.2 L892.1,240.5 L893.6,241.8 L895.1,243.1 L896.6,244.5 L898.1,245.8 L899.6,247.1 L901.1,248.5 L902.5,249.9 L904.0,251.2 L905.4,252.6 L906.9,254.0 L908.3,255.4 L909.7,256.8 L911.1,258.3 L912.5,259.7 L913.9,261.2 L915.3,262.6 L916.6,264.1 L918.0,265.6 L919.3,267.1 L920.6,268.6 L922.0,270.1 L923.3,271.7 L924.6,273.2 L925.8,274.7 L927.1,276.3 L928.4,277.9 L929.6,279.5 L930.8,281.0 L932.0,282.6 L933.2,284.3 L934.4,285.9 L935.6,287.5 L936.7,289.1 L937.9,290.8 L939.0,292.4 L940.1,294.1 L941.2,295.8 L942.3,297.5 L943.4,299.2 L944.4,300.9 L945.4,302.6 L946.4,304.3 L947.4,306.0 L948.4,307.8 L949.4,309.5 L950.3,311.3 L951.3,313.0 L952.2,314.8 L953.1,316.6 L953.9,318.4 L954.8,320.2 L955.6,322.0 L956.5,323.8 L957.3,325.6 L958.1,327.4 L958.8,329.3 L959.6,331.1 L960.4,332.9 L961.1,334.8 L961.8,336.6 L962.5,338.5 L963.2,340.4 L963.9,342.3 L964.6,344.1 L965.2,346.0 L965.9,347.9 L966.5,349.8 L967.1,351.7 L967.7,353.6 L968.3,355.5 L968.9,357.4 L969.5,359.3 L970.1,361.2 L970.7,363.2 L971.2,365.1 L971.8,367.0 L972.3,368.9 L972.9,370.9 L973.4,372.8 L973.9,374.7 L974.4,376.7 L975.0,378.6 L975.5,380.5 L976.0,382.5 L976.5,384.4 L977.0,386.4 L977.5,388.3 L978.0,390.2 L978.5,392.2 L978.9,394.1 L979.4,396.1 L979.9,398.0 L980.4,400.0 L980.8,401.9 L981.3,403.9 L981.8,405.8 L982.2,407.8 L982.7,409.7 L983.1,411.6 L983.6,413.6 L984.0,415.5 L984.5,417.5 L984.9,419.4 L985.3,421.4 L985.8,423.4 L986.2,425.3 L986.6,427.3 L987.0,429.2 L987.4,431.2 L987.9,433.1 L988.3,435.1 L988.7,437.0 L989.1,439.0 L989.5,441.0 L989.9,442.9 L990.3,444.9 L990.7,446.8 L991.0,448.8 L991.4,450.7 L991.8,452.7 L992.2,454.7 L992.6,456.6 L992.9,458.6 L993.3,460.6 L993.7,462.5 L994.0,464.5 L994.4,466.5 L994.8,468.4 L995.1,470.4 L995.5,472.3 L995.8,474.3 L996.2,476.3 L996.5,478.2 L996.9,480.2 L997.2,482.2 L997.6,484.2 L997.9,486.1 L998.2,488.1 L998.6,490.1 L998.9,492.0 L999.2,494.0 L999.5,496.0 L999.9,497.9 L1000.2,499.9 L1000.5,501.9 L1000.8,503.9 L1001.1,505.8 L1001.5,507.8 L1001.8,509.8 L1002.1,511.8 L1002.4,513.7 L1002.7,515.7 L1003.0,517.7 L1003.3,519.7 L1003.6,521.6 L1003.9,523.6 L1004.2,525.6 L1004.5,527.6 L1004.8,529.5 L1005.1,531.5 L1005.4,533.5 L1005.6,535.5 L1005.9,537.5 L1006.2,539.4 L1006.5,541.4 L1006.8,543.4 L1007.1,545.4 L1007.3,547.4 L1007.6,549.3 L1007.9,551.3 L1008.2,553.3 L1008.4,555.3 L1008.7,557.3 L1009.0,559.2 L1009.3,561.2 L1009.5,563.2 L1009.8,565.2 L1010.1,567.2 L1010.3,569.1 L1010.6,571.1 L1010.8,573.1 L1011.1,575.1 L1011.4,577.1 L1011.6,579.1 L1011.9,581.0 L1012.2,583.0 L1012.4,585.0 L1012.7,587.0 L1012.9,589.0 L1013.2,591.0 L1013.4,592.9 L1013.7,594.9 L1013.9,596.9 L1014.2,598.9 L1014.4,600.9 L1014.7,602.9 L1014.9,604.9 L1015.2,606.8 L1015.4,608.8 L1015.7,610.8 L1015.9,612.8 L1016.2,614.8 L1016.4,616.8 L1016.7,618.8 L1016.9,620.7 L1017.2,622.7 L1017.4,624.7 L1017.7,626.7 L1017.9,628.7 L1018.2,630.7 L1018.4,632.7 L1018.7,634.6 L1018.9,636.6 L1019.2,638.6 L1019.4,640.6 L1019.7,642.6 L1019.9,644.6 L1020.2,646.6 L1020.4,648.5 L1020.7,650.5 L1020.9,652.5 L1021.1,654.5 L1021.4,656.5 L1021.6,658.5 L1021.9,660.5 L1022.1,662.4 L1022.4,664.4 L1022.6,666.4 L1022.9,668.4 L1023.1,670.4 L1023.4,672.4 L1023.7,674.4 L1023.9,676.3 L1024.2,678.3 L1024.4,680.3 L1024.7,682.3 L1024.9,684.3 L1025.2,686.3 L1025.4,688.2 L1025.7,690.2 L1025.9,692.2 L1026.2,694.2 L1026.4,696.2 L1026.7,698.2 L1027.0,700.2 L1027.2,702.1 L1027.5,704.1 L1027.7,706.1 L1028.0,708.1 L1028.2,710.1 L1028.5,712.1 L1028.8,714.0 L1029.0,716.0 L1029.3,718.0 L1029.5,720.0 L1029.8,722.0 L1030.0,724.0 L1030.3,725.9 L1030.6,727.9 L1030.8,729.9 L1031.1,731.9 L1031.3,733.9 L1031.6,735.9 L1031.9,737.8 L1032.1,739.8 L1032.4,741.8 L1032.6,743.8 L1032.9,745.8 L1033.2,747.8 L1033.4,749.7 L1033.7,751.7 L1033.9,753.7 L1034.2,755.7 L1034.5,757.7 L1034.7,759.7 L1035.0,761.6 L1035.2,763.6 L1035.5,765.6 L1035.7,767.6 L1036.0,769.6 L1036.3,771.5 L1036.5,773.5 L1036.8,775.5 L1037.0,777.5 L1037.3,779.5 L1037.6,781.5 L1037.8,783.4 L1038.1,785.4 L1038.3,787.4 L1038.6,789.4 L1038.8,791.4 L1039.1,793.3 L1039.4,795.3 L1039.6,797.3 L1039.9,799.3 L1040.1,801.3 L1040.4,803.2 L1040.6,805.2 L1040.9,807.2 L1041.1,809.2 L1041.4,811.2 L1041.6,813.2 L1041.9,815.1 L1042.2,817.1 L1042.4,819.1 L1042.7,821.1 L1042.9,823.1 L1043.2,825.0 L1043.4,827.0 L1043.7,829.0 L1043.9,831.0 L1044.2,833.0 L1044.4,834.9 L1044.7,836.9 L1045.0,838.9 L1045.2,840.9 L1045.5,842.9 L1045.7,844.8 L1046.0,846.8 L1046.2,848.8 L1046.5,850.8 L1046.8,852.8 L1047.0,854.7 L1047.3,856.7 L1047.5,858.7 L1047.8,860.7 L1048.1,862.7 L1048.3,864.6 L1048.6,866.6 L1048.9,868.6 L1049.1,870.6 L1049.4,872.6 L1049.7,874.5 L1049.9,876.5 L1050.2,878.5 L1050.5,880.5 L1050.7,882.5 L1051.0,884.4 L1051.3,886.4 L1051.6,888.4 L1051.8,890.4 L1052.1,892.4 L1052.4,894.3 L1052.7,896.3 L1053.0,898.3 L1053.3,900.3 L1053.5,902.3 L1053.8,904.3 L1054.1,906.2 L1054.4,908.2 L1054.7,910.2 L1055.0,912.2 L1055.3,914.2 L1055.6,916.1 L1055.9,918.1 L1056.2,920.1 L1056.5,922.1 L1056.8,924.1 L1057.1,926.1 L1057.4,928.0 L1057.8,930.0 L1058.1,932.0 L1058.4,934.0 L1058.7,936.0 L1059.0,938.0 L1059.4,939.9 L1059.7,941.9 L1060.0,943.9 L1060.4,945.9 L1060.7,947.9 L1061.0,949.9 L1061.4,951.8 L1061.7,953.8 L1062.1,955.8 L1062.4,957.8 L1062.8,959.8 L1063.2,961.7 L1063.5,963.7 L1063.9,965.7 L1064.3,967.7 L1064.7,969.6 L1065.1,971.6 L1065.6,973.5 L1066.0,975.5 L1066.4,977.5 L1066.9,979.4 L1067.4,981.3 L1067.9,983.3 L1068.4,985.2 L1068.9,987.1 L1069.5,989.0 L1070.0,990.9 L1070.6,992.8 L1071.2,994.7 L1071.8,996.6 L1072.5,998.5 L1073.2,1000.3 L1073.9,1002.2 L1074.6,1004.0 L1075.3,1005.8 L1076.1,1007.7 L1076.9,1009.5 L1077.7,1011.3 L1078.5,1013.0 L1079.4,1014.8 L1080.3,1016.6 L1081.3,1018.3 L1082.2,1020.0 L1083.2,1021.8 L1084.3,1023.5 L1085.3,1025.2 L1086.4,1026.8 L1087.5,1028.5 L1088.6,1030.1 L1089.8,1031.7 L1091.0,1033.3 L1092.2,1034.9 L1093.5,1036.5 L1094.7,1038.1 L1096.0,1039.6 L1097.4,1041.1 L1098.7,1042.6 L1100.1,1044.1 L1101.5,1045.5 L1102.9,1046.9 L1104.3,1048.3 L1105.8,1049.7 L1107.2,1051.1 L1108.7,1052.4 L1110.2,1053.8 L1111.8,1055.0 L1113.3,1056.3 L1114.9,1057.6 L1116.5,1058.8 L1118.1,1060.0 L1119.7,1061.1 L1121.4,1062.3 L1123.1,1063.4 L1124.7,1064.5 L1126.4,1065.5 L1128.1,1066.5 L1129.9,1067.5 L1131.6,1068.5 L1133.3,1069.5 L1135.1,1070.4 L1136.9,1071.2 L1138.7,1072.1 L1140.5,1072.9 L1142.3,1073.7 L1144.1,1074.5 L1146.0,1075.3 L1147.8,1076.0 L1149.7,1076.7 L1151.5,1077.4 L1153.4,1078.0 L1155.3,1078.6 L1157.2,1079.3 L1159.1,1079.8 L1161.0,1080.4 L1162.9,1081.0 L1164.9,1081.5 L1166.8,1082.0 L1168.7,1082.5 L1170.7,1083.0 L1172.6,1083.4 L1174.6,1083.8 L1176.5,1084.3 L1178.5,1084.7 L1180.5,1085.1 L1182.5,1085.4 L1184.4,1085.8 L1186.4,1086.1 L1188.4,1086.5 L1190.4,1086.8 L1192.4,1087.1 L1194.4,1087.4 L1196.3,1087.7 L1198.3,1088.0 L1200.3,1088.3 L1202.3,1088.5 L1204.3,1088.8 L1206.3,1089.0 L1208.3,1089.2 L1210.3,1089.5 L1212.3,1089.7 L1214.3,1089.9 L1216.3,1090.1 L1218.3,1090.3 L1220.3,1090.5 L1222.3,1090.7 L1224.2,1090.9 L1226.2,1091.0 L1228.2,1091.2 L1230.2,1091.3 L1232.2,1091.5 L1234.2,1091.6 L1236.2,1091.8 L1238.2,1091.9 L1240.2,1092.1 L1242.2,1092.2 L1244.2,1092.3 L1246.2,1092.4 L1248.2,1092.6 L1250.2,1092.7 L1252.2,1092.8 L1254.2,1092.9 L1256.2,1093.0 L1258.2,1093.1 L1260.2,1093.2 L1262.1,1093.3 L1264.1,1093.4 L1266.1,1093.5 L1268.1,1093.6 L1270.1,1093.7 L1272.1,1093.8 L1274.1,1093.9 L1276.1,1094.0 L1278.1,1094.1 L1280.1,1094.2 L1282.1,1094.3 L1284.1,1094.4 L1286.1,1094.5 L1288.1,1094.6 L1290.1,1094.7 L1292.1,1094.8 L1294.1,1094.9 L1296.1,1094.9 L1298.1,1095.0 L1300.1,1095.1 L1302.1,1095.2 L1304.1,1095.3 L1306.1,1095.4 L1308.1,1095.5 L1310.1,1095.6 L1312.1,1095.6 L1314.1,1095.7 L1316.1,1095.8 L1318.1,1095.9 L1320.1,1096.0 L1322.1,1096.1 L1324.0,1096.1 L1326.0,1096.2 L1328.0,1096.3 L1330.0,1096.4 L1332.0,1096.5 L1334.0,1096.5 L1336.0,1096.6 L1338.0,1096.7 L1340.0,1096.8 L1342.0,1096.9 L1344.0,1096.9 L1346.0,1097.0 L1348.0,1097.1 L1350.0,1097.2 L1352.0,1097.2 L1354.0,1097.3 L1356.0,1097.4 L1358.0,1097.5 L1360.0,1097.5 L1362.0,1097.6 L1364.0,1097.7 L1366.0,1097.7 L1368.0,1097.8 L1370.0,1097.9 L1372.0,1098.0 L1374.0,1098.0 L1376.0,1098.1 L1378.0,1098.2 L1380.0,1098.2 L1382.0,1098.3 L1384.0,1098.4 L1386.0,1098.4 L1388.0,1098.5 L1390.0,1098.6 L1392.0,1098.6 L1394.0,1098.7 L1396.0,1098.8 L1398.0,1098.8 L1400.0,1098.9 L1402.0,1099.0 L1404.0,1099.0 L1406.0,1099.1 L1408.0,1099.2 L1410.0,1099.2 L1412.0,1099.3 L1414.0,1099.3 L1416.0,1099.4 L1418.0,1099.5 L1420.0,1099.5 L1422.0,1099.6 L1424.0,1099.7 L1426.0,1099.7 L1428.0,1099.8 L1430.0,1099.8 L1432.0,1099.9 L1434.0,1100.0 L1436.0,1100.0 L1438.0,1100.1 L1440.0,1100.1 L1442.0,1100.2 L1444.0,1100.2 L1446.0,1100.3 L1448.0,1100.4 L1450.0,1100.4 L1452.0,1100.5 L1454.0,1100.5 L1456.0,1100.6 L1458.0,1100.6 L1460.0,1100.7 L1462.0,1100.8 L1464.0,1100.8 L1466.0,1100.9 L1468.0,1100.9 L1470.0,1101.0 L1472.0,1101.0 L1474.0,1101.1 L1476.0,1101.1 L1478.0,1101.2 L1480.0,1101.2 L1482.0,1101.3 L1484.0,1101.4 L1486.0,1101.4 L1488.0,1101.5 L1490.0,1101.5 L1492.0,1101.6 L1494.0,1101.6 L1496.0,1101.7 L1498.0,1101.7 L1500.0,1101.8 L1502.0,1101.8 L1504.0,1101.9 L1506.0,1101.9 L1508.0,1102.0 L1510.0,1102.0 L1512.0,1102.1 L1513.9,1102.1 L1515.9,1102.2 L1517.9,1102.2 L1519.9,1102.3 L1521.9,1102.3 L1523.9,1102.4 L1525.9,1102.4 L1527.9,1102.5 L1529.9,1102.5 L1531.9,1102.6 L1533.9,1102.6 L1535.9,1102.7 L1537.9,1102.8 L1539.9,1102.8 L1541.9,1102.9 L1543.9,1102.9 L1545.9,1103.0 L1547.9,1103.0 L1549.9,1103.1 L1551.9,1103.1 L1553.9,1103.2 L1555.9,1103.2 L1557.9,1103.3 L1559.9,1103.3 L1561.9,1103.4 L1563.9,1103.4 L1565.9,1103.5 L1567.9,1103.5 L1569.9,1103.6 L1571.9,1103.6 L1573.9,1103.7 L1575.9,1103.7 L1577.9,1103.8 L1579.9,1103.8 L1581.9,1103.9 L1583.9,1103.9 L1585.9,1104.0 L1587.9,1104.0 L1589.9,1104.1 L1591.9,1104.1 L1593.9,1104.2 L1595.9,1104.2 L1597.9,1104.3 L1599.9,1104.3 L1601.9,1104.4 L1603.9,1104.4 L1605.9,1104.5 L1607.9,1104.5 L1609.9,1104.6 L1611.9,1104.6 L1613.9,1104.7 L1615.9,1104.7 L1617.9,1104.8 L1619.9,1104.8 L1621.9,1104.9 L1623.9,1104.9 L1625.9,1105.0 L1627.9,1105.0 L1629.9,1105.1 L1631.9,1105.1 L1633.9,1105.2 L1635.9,1105.2 L1637.9,1105.3 L1639.9,1105.3 L1641.9,1105.4 L1643.9,1105.5 L1645.9,1105.5 L1647.9,1105.6 L1649.9,1105.6 L1651.9,1105.7 L1653.9,1105.7 L1655.9,1105.8 L1657.9,1105.8 L1659.9,1105.9 L1661.9,1105.9 L1663.9,1106.0 L1665.9,1106.0 L1667.9,1106.1 L1669.9,1106.1 L1671.9,1106.2 L1673.9,1106.2 L1675.9,1106.3 L1677.9,1106.4 L1679.9,1106.4 L1681.9,1106.5 L1683.9,1106.5 L1685.9,1106.6 L1687.9,1106.6 L1689.9,1106.7 L1691.9,1106.7 L1693.9,1106.8 L1695.9,1106.8 L1697.9,1106.9 L1699.9,1106.9 L1701.9,1107.0 L1703.9,1107.1 L1705.9,1107.1 L1707.9,1107.2 L1709.9,1107.2 L1711.9,1107.3 L1713.9,1107.3 L1715.9,1107.4 L1717.9,1107.4 L1719.9,1107.5 L1721.9,1107.6 L1723.9,1107.6 L1725.9,1107.7 L1727.9,1107.7 L1729.9,1107.8 L1731.9,1107.8 L1733.9,1107.9 L1735.9,1108.0 L1737.9,1108.0 L1739.9,1108.1 L1741.9,1108.1 L1743.9,1108.2 L1745.9,1108.2 L1747.9,1108.3 L1749.9,1108.4 L1751.9,1108.4 L1753.9,1108.5 L1755.9,1108.5 L1757.9,1108.6 L1759.9,1108.7 L1761.9,1108.7 L1763.9,1108.8 L1765.9,1108.8 L1767.9,1108.9 L1769.9,1109.0 L1771.9,1109.0 L1773.9,1109.1 L1775.9,1109.1 L1777.8,1109.2 L1779.8,1109.3 L1781.8,1109.3 L1783.8,1109.4 L1785.8,1109.4 L1787.8,1109.5 L1789.8,1109.6 L1791.8,1109.6 L1793.8,1109.7 L1795.8,1109.8 L1797.8,1109.8 L1799.8,1109.9 L1801.8,1109.9 L1803.8,1110.0 L1805.8,1110.1 L1807.8,1110.1 L1809.8,1110.2 L1811.8,1110.3 L1813.8,1110.3 L1815.8,1110.4 L1817.8,1110.5 L1819.8,1110.5 L1821.8,1110.6 L1823.8,1110.6 L1825.8,1110.7 L1827.8,1110.8 L1829.8,1110.8 L1831.8,1110.9 L1833.8,1111.0 L1835.8,1111.0 L1837.8,1111.1 L1839.8,1111.2 L1840.5,1111.2" stroke="#808000"/>
</g>
<g class="tk">
<text transform="translate(380.2,1319.6) scale(0.945,1)" text-anchor="middle">100</text>
<text transform="translate(588.7,1319.6) scale(0.945,1)" text-anchor="middle">200</text>
<text transform="translate(797.3,1319.6) scale(0.945,1)" text-anchor="middle">300</text>
<text transform="translate(1005.8,1319.6) scale(0.945,1)" text-anchor="middle">400</text>
<text transform="translate(1214.3,1319.6) scale(0.945,1)" text-anchor="middle">500</text>
<text transform="translate(1422.8,1319.6) scale(0.945,1)" text-anchor="middle">600</text>
<text transform="translate(1631.4,1319.6) scale(0.945,1)" text-anchor="middle">700</text>
<text transform="translate(1839.9,1319.6) scale(0.945,1)" text-anchor="middle">800</text>
<text transform="translate(173.5,1125.0) scale(0.93,1)" text-anchor="end">20</text>
<text transform="translate(173.5,870.8) scale(0.93,1)" text-anchor="end">40</text>
<text transform="translate(173.5,616.6) scale(0.93,1)" text-anchor="end">60</text>
<text transform="translate(173.5,362.4) scale(0.93,1)" text-anchor="end">80</text>
<text transform="translate(173.5,108.2) scale(0.93,1)" text-anchor="end">100</text>
</g>
<text class="tt" transform="translate(1027,1396.5) scale(0.973,1)" text-anchor="middle">Temperature (°C)</text>
<text class="tt" transform="translate(78,619) rotate(-90)" text-anchor="middle">TG (%)</text>
<line x1="1143.5" y1="220.3" x2="1278.5" y2="220.3" stroke="#0000ff" stroke-width="6"/>
<text class="lg" x="1289" y="239.5">PCL fiber</text>
<line x1="1143.5" y1="291.6" x2="1278.5" y2="291.6" stroke="#ff00ff" stroke-width="6"/>
<text class="lg" x="1289" y="310.8">PEI/PCL(35:65) fiber</text>
<line x1="1143.5" y1="363.0" x2="1278.5" y2="363.0" stroke="#808000" stroke-width="6"/>
<text class="lg" x="1289" y="382.2">PEI/PCL@PdNPs fiber</text>
</g></svg></body></html>
